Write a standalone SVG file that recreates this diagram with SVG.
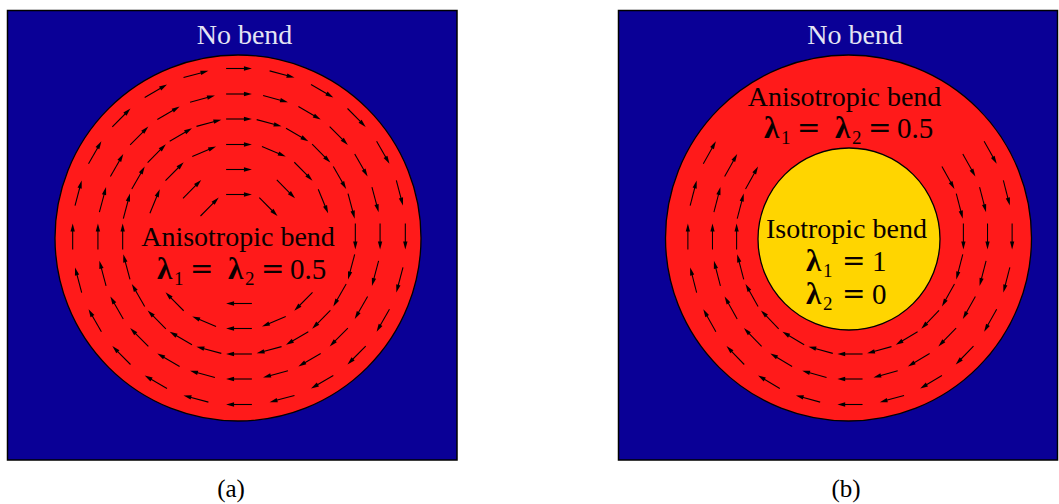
<svg xmlns="http://www.w3.org/2000/svg" xmlns:xlink="http://www.w3.org/1999/xlink" width="1059" height="504" viewBox="0 0 1059 504">
<style>
.bg{fill:#0a0096;stroke:#000;stroke-width:1.5}
.red{fill:#ff1a1a;stroke:#000;stroke-width:1.3}
.yel{fill:#ffd500;stroke:#000;stroke-width:1.3}
text{font-family:"Liberation Serif","Times New Roman",serif;fill:#0a0000}
.nb{font-size:28px;fill:#e4e4f4;text-anchor:middle}
.lb{font-size:28px;text-anchor:middle}
.lam{font-size:31px;font-weight:bold}
.eq{font-size:28px;font-family:"DejaVu Serif",serif}
.mt{font-size:29px}
.sub{font-size:19px}
.cap{font-size:25px;text-anchor:middle;fill:#000}
</style>
<defs>
<g id="a"><path d="M-13,0H7" stroke="#000" stroke-width="1.1" fill="none"/><path d="M13,0L5,-2.2L5,2.2Z" fill="#000"/></g>
<g id="t3"><use href="#a" y="-168"/><use href="#a" y="-142.5"/><use href="#a" y="-117.5"/></g>
</defs>

<g id="panel-a">
<rect class="bg" x="7.5" y="10.5" width="449.5" height="449.5"/>
<circle class="red" cx="238" cy="238" r="183"/>
</g>

<g id="panel-b">
<rect class="bg" x="618.5" y="10.5" width="439" height="449.5"/>
<circle class="red" cx="848.5" cy="238" r="183"/>
<circle class="yel" cx="849" cy="239" r="91"/>
</g>

<g id="connectors">
<g id="arrows-a" transform="translate(239,236.5) scale(0.99,1)">
<use href="#t3"/>
<use href="#t3" transform="rotate(15)"/>
<use href="#t3" transform="rotate(30)"/>
<use href="#t3" transform="rotate(45)"/>
<use href="#t3" transform="rotate(60)"/>
<use href="#t3" transform="rotate(75)"/>
<use href="#t3" transform="rotate(90)"/>
<use href="#t3" transform="rotate(105)"/>
<use href="#t3" transform="rotate(120)"/>
<use href="#t3" transform="rotate(135)"/>
<use href="#t3" transform="rotate(150)"/>
<use href="#t3" transform="rotate(165)"/>
<use href="#t3" transform="rotate(180)"/>
<use href="#t3" transform="rotate(195)"/>
<use href="#t3" transform="rotate(210)"/>
<use href="#t3" transform="rotate(225)"/>
<use href="#t3" transform="rotate(240)"/>
<use href="#t3" transform="rotate(255)"/>
<use href="#t3" transform="rotate(270)"/>
<use href="#t3" transform="rotate(285)"/>
<use href="#t3" transform="rotate(300)"/>
<use href="#t3" transform="rotate(315)"/>
<use href="#t3" transform="rotate(330)"/>
<use href="#t3" transform="rotate(345)"/>
<use href="#a" y="-92"/>
<use href="#a" y="-92" transform="rotate(22.5)"/>
<use href="#a" y="-92" transform="rotate(45)"/>
<use href="#a" y="-92" transform="rotate(67.5)"/>
<use href="#a" y="-92" transform="rotate(135)"/>
<use href="#a" y="-92" transform="rotate(157.5)"/>
<use href="#a" y="-92" transform="rotate(180)"/>
<use href="#a" y="-92" transform="rotate(202.5)"/>
<use href="#a" y="-92" transform="rotate(225)"/>
<use href="#a" y="-92" transform="rotate(292.5)"/>
<use href="#a" y="-92" transform="rotate(315)"/>
<use href="#a" y="-92" transform="rotate(337.5)"/>
<use href="#a" y="-67"/>
<use href="#a" y="-67" transform="rotate(45)"/>
<use href="#a" y="-67" transform="rotate(180)"/>
<use href="#a" y="-67" transform="rotate(315)"/>
<use href="#a" y="-42"/>
<use href="#a" y="-42" transform="rotate(45)"/>
<use href="#a" y="-42" transform="rotate(315)"/>
</g>
<g id="arrows-b" transform="translate(850,236.5) scale(0.965,1)">
<use href="#t3" transform="rotate(60)"/>
<use href="#t3" transform="rotate(75)"/>
<use href="#t3" transform="rotate(90)"/>
<use href="#t3" transform="rotate(105)"/>
<use href="#t3" transform="rotate(120)"/>
<use href="#t3" transform="rotate(135)"/>
<use href="#t3" transform="rotate(150)"/>
<use href="#t3" transform="rotate(165)"/>
<use href="#t3" transform="rotate(180)"/>
<use href="#t3" transform="rotate(195)"/>
<use href="#t3" transform="rotate(210)"/>
<use href="#t3" transform="rotate(225)"/>
<use href="#t3" transform="rotate(240)"/>
<use href="#t3" transform="rotate(255)"/>
<use href="#t3" transform="rotate(270)"/>
<use href="#t3" transform="rotate(285)"/>
<use href="#t3" transform="rotate(300)"/>
</g>
</g>

<g id="labels-a">
<text class="nb" x="244.5" y="44">No bend</text>
<text class="lb" x="238" y="246">Anisotropic bend</text>
<text class="lam" x="157" y="279">λ</text><text class="sub" x="174" y="285">1</text>
<text class="eq" x="190" y="278">=</text>
<text class="lam" x="228" y="279">λ</text><text class="sub" x="245" y="285">2</text>
<text class="eq" x="261" y="278">=</text>
<text class="mt" x="290" y="279">0.5</text>
</g>

<g id="labels-b">
<text class="nb" x="855" y="44">No bend</text>
<text class="lb" x="844.5" y="105.5">Anisotropic bend</text>
<text class="lam" x="764" y="138">λ</text><text class="sub" x="781" y="144">1</text>
<text class="eq" x="797" y="137">=</text>
<text class="lam" x="835" y="138">λ</text><text class="sub" x="852" y="144">2</text>
<text class="eq" x="868" y="137">=</text>
<text class="mt" x="897" y="138">0.5</text>
<text class="lb" x="846.5" y="237.5">Isotropic bend</text>
<text class="lam" x="806" y="271">λ</text><text class="sub" x="823" y="277">1</text>
<text class="eq" x="842" y="270">=</text>
<text class="mt" x="872" y="271">1</text>
<text class="lam" x="806" y="304">λ</text><text class="sub" x="823" y="310">2</text>
<text class="eq" x="842" y="303">=</text>
<text class="mt" x="872" y="304">0</text>
</g>

<g id="captions">
<text class="cap" x="231" y="497">(a)</text>
<text class="cap" x="846" y="497">(b)</text>
</g>
</svg>
